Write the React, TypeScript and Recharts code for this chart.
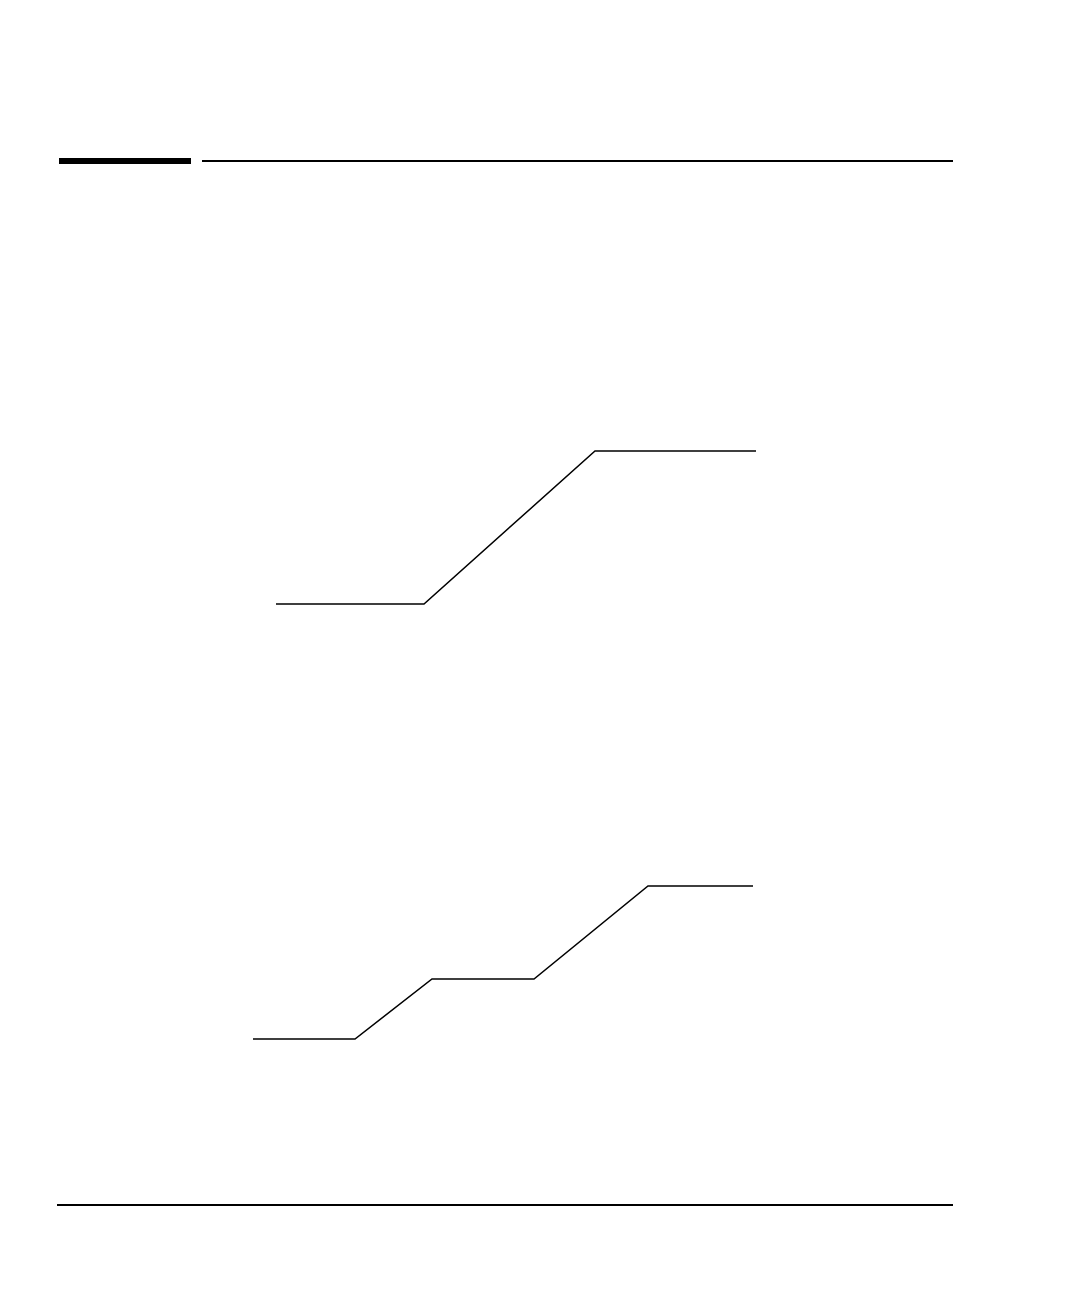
import * as React from "react";
import { LineChart, Line, XAxis, YAxis } from "recharts";

// upper figure: one ramp between two levels
const rampTimes = [0, 14.8, 31.9, 48];
const rampLevels = [0, 0, 1, 1];

// lower figure: two ramps with a plateau in between
const stepTimes = [0, 10.2, 17.9, 28.1, 39.5, 50];
const stepLevels = [0, 0, 6, 6, 15.3, 15.3];

const rampData = rampTimes.map((t, i) => ({ t, v: rampLevels[i] }));
const stepData = stepTimes.map((t, i) => ({ t, v: stepLevels[i] }));

const PAD = 5;
const MARGIN = { top: PAD, right: PAD, bottom: PAD, left: PAD };

function Trace({
  data,
  xMax,
  yMax,
  left,
  top,
  width,
  height,
}: {
  data: { t: number; v: number }[];
  xMax: number;
  yMax: number;
  left: number;
  top: number;
  width: number;
  height: number;
}) {
  return (
    <div style={{ position: "absolute", left: left - PAD, top: top - PAD }}>
      <LineChart
        width={width + PAD * 2}
        height={height + PAD * 2}
        data={data}
        margin={MARGIN}
      >
        <XAxis dataKey="t" type="number" domain={[0, xMax]} hide />
        <YAxis type="number" domain={[0, yMax]} hide />
        <Line
          type="linear"
          dataKey="v"
          stroke="#000"
          strokeWidth={1.5}
          dot={false}
          activeDot={false}
          isAnimationActive={false}
        />
      </LineChart>
    </div>
  );
}

export default function App() {
  return (
    <div
      style={{
        position: "absolute",
        left: 0,
        top: 0,
        width: 1080,
        height: 1296,
        background: "#fff",
        overflow: "hidden",
      }}
    >
      {/* header rules */}
      <div style={{ position: "absolute", left: 59, top: 158, width: 132, height: 6, background: "#000" }} />
      <div style={{ position: "absolute", left: 202, top: 160, width: 751, height: 2, background: "#000" }} />

      <Trace data={rampData} xMax={48} yMax={1} left={276} top={451} width={480} height={153} />
      <Trace data={stepData} xMax={50} yMax={15.3} left={253} top={886} width={500} height={153} />

      {/* footer rule */}
      <div style={{ position: "absolute", left: 57, top: 1204, width: 896, height: 1.5, background: "#000" }} />
    </div>
  );
}
